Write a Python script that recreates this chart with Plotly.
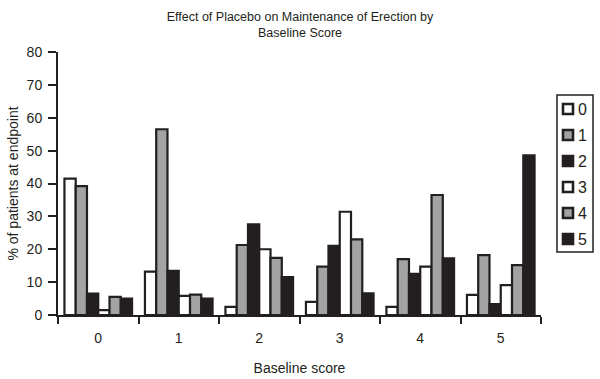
import plotly.graph_objects as go

categories = ["0", "1", "2", "3", "4", "5"]
series_names = ["0", "1", "2", "3", "4", "5"]
s0 = [41.5, 13.2, 2.5, 4.0, 2.5, 6.1]
s1 = [39.2, 56.5, 21.3, 14.7, 17.0, 18.2]
s2 = [6.5, 13.4, 27.6, 21.0, 12.5, 3.3]
s3 = [1.5, 5.8, 20.0, 31.4, 14.7, 9.1]
s4 = [5.5, 6.2, 17.4, 23.0, 36.5, 15.2]
s5 = [5.0, 5.0, 11.5, 6.6, 17.2, 48.6]
series_values = [s0, s1, s2, s3, s4, s5]
fills = ["#ffffff", "#a3a3a3", "#231f20", "#ffffff", "#a3a3a3", "#231f20"]
y_ticks = [0, 10, 20, 30, 40, 50, 60, 70, 80]

FONT = "Liberation Sans Narrow, Arial Narrow, Liberation Sans, Arial, sans-serif"
INK = "#231f20"

W, H = 600, 379
ML, MR, MT, MB = 58, 59, 52, 64
PW, PH = W - ML - MR, H - MT - MB


def px_x(p):
    return (p - ML) / PW


def px_y(p):
    return (H - MB - p) / PH


fig = go.Figure()
for name, vals, col in zip(series_names, series_values, fills):
    fig.add_trace(go.Bar(
        x=categories, y=vals, name=name, showlegend=False,
        marker=dict(color=col, line=dict(color=INK, width=2.2)),
    ))

# hand-built legend box (layout decoration), entries taken from series lists
shapes = [dict(type="rect", xref="paper", yref="paper",
               x0=px_x(557), x1=px_x(593), y0=px_y(252), y1=px_y(95),
               line=dict(color=INK, width=1.5), fillcolor="white", layer="above")]
annotations = []
for i, (name, col) in enumerate(zip(series_names, fills)):
    yc = 109 + 26 * i
    shapes.append(dict(type="rect", xref="paper", yref="paper",
                       x0=px_x(563), x1=px_x(573), y0=px_y(yc + 5), y1=px_y(yc - 5),
                       line=dict(color=INK, width=2.6), fillcolor=col, layer="above"))
    annotations.append(dict(xref="paper", yref="paper", x=px_x(575.5), y=px_y(yc),
                            xanchor="left", yanchor="middle", text=name, showarrow=False,
                            font=dict(family=FONT, size=16, color=INK)))

fig.update_layout(
    width=W, height=H,
    margin=dict(l=ML, r=MR, t=MT, b=MB, autoexpand=False),
    paper_bgcolor="white", plot_bgcolor="white",
    font=dict(family=FONT, size=14, color=INK),
    title=dict(text="Effect of Placebo on Maintenance of Erection by<br>Baseline Score",
               x=0.5, xanchor="center", y=0.945, yanchor="top",
               font=dict(family=FONT, size=12.5, color=INK)),
    barmode="group", bargap=0.16, bargroupgap=0,
    showlegend=False,
    shapes=shapes, annotations=annotations,
)
fig.update_xaxes(
    type="category", showline=True, linecolor=INK, linewidth=2,
    ticks="outside", tickson="boundaries", ticklen=7, tickwidth=2, tickcolor=INK,
    ticklabelstandoff=9,
    showgrid=False, zeroline=False, automargin=False,
    title=dict(text="Baseline score", font=dict(family=FONT, size=14), standoff=18),
    tickfont=dict(family=FONT, size=14),
)
fig.update_yaxes(
    range=[0, 80], tickvals=y_ticks, showline=True, linecolor=INK, linewidth=2,
    ticks="outside", ticklen=8, tickwidth=2, tickcolor=INK,
    ticklabelstandoff=3,
    showgrid=False, zeroline=False, automargin=False,
    title=dict(text="% of patients at endpoint", font=dict(family=FONT, size=14), standoff=5),
    tickfont=dict(family=FONT, size=14),
)

fig.write_html("out.html", config={"displayModeBar": False},
               post_script="document.body.style.margin='0';document.body.style.overflow='hidden';")
